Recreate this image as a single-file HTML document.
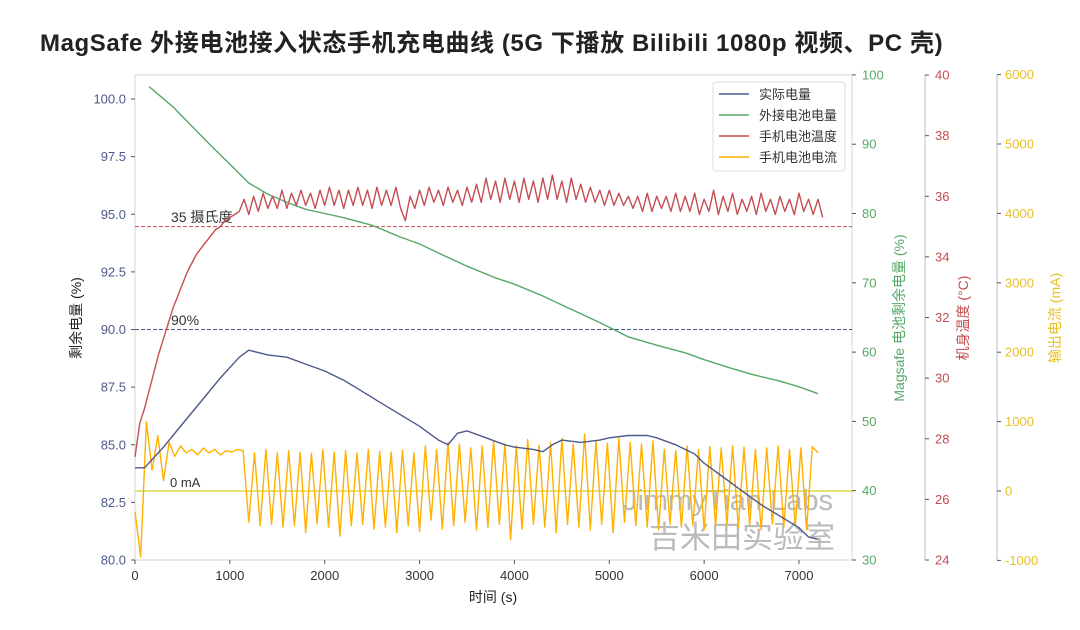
<!DOCTYPE html>
<html><head><meta charset="utf-8">
<style>
body{margin:0;background:#fff;}
svg{display:block;font-family:"Liberation Sans","Noto Sans CJK SC",sans-serif;}
</style></head>
<body>
<svg id="chart" width="1080" height="630" viewBox="0 0 1080 630" xmlns="http://www.w3.org/2000/svg">
<rect x="0" y="0" width="1080" height="630" fill="#fff"/>
<text x="40" y="51" font-size="24" font-weight="bold" letter-spacing="0.6" fill="#222" font-family="'Liberation Sans','Noto Sans CJK SC',sans-serif">MagSafe 外接电池接入状态手机充电曲线 (5G 下播放 Bilibili 1080p 视频、PC 壳)</text>
<g id="plot"></g>
</svg>
<script>
// ---- data ----
const timeTicks = [0,1000,2000,3000,4000,5000,6000,7000];
const leftTicks = [80.0,82.5,85.0,87.5,90.0,92.5,95.0,97.5,100.0];
const greenTicks = [30,40,50,60,70,80,90,100];
const redTicks = [24,26,28,30,32,34,36,38,40];
const yellowTicks = [-1000,0,1000,2000,3000,4000,5000,6000];

// actual battery (%) vs time
const battT = [0,100,300,500,700,900,1100,1200,1400,1600,1800,2000,2200,2400,2600,2800,3000,3200,3300,3400,3500,3700,3900,4000,4200,4300,4400,4500,4700,4900,5000,5200,5400,5500,5700,5900,6000,6200,6400,6600,6800,7000,7100,7200];
const battV = [84.0,84.0,84.9,85.9,86.9,87.9,88.8,89.1,88.9,88.8,88.5,88.2,87.8,87.3,86.8,86.3,85.8,85.2,85.0,85.5,85.6,85.3,85.0,84.9,84.8,84.7,85.0,85.2,85.1,85.2,85.3,85.4,85.4,85.3,85.0,84.6,84.2,83.6,83.0,82.4,81.9,81.4,81.0,80.9];

// external battery (%) vs time
const extT = [150,400,600,800,1000,1200,1400,1600,1800,2000,2200,2500,2800,3000,3200,3500,3800,4000,4300,4500,4800,5000,5200,5500,5800,6000,6300,6500,6800,7000,7200];
const extV = [98.3,95.4,92.6,89.8,87.1,84.4,82.8,81.6,80.6,80.0,79.4,78.3,76.6,75.6,74.3,72.4,70.7,69.8,68.1,66.8,64.9,63.6,62.2,61.0,59.9,58.9,57.6,56.8,55.8,55.0,54.0];

// phone temperature (°C), 50 s step from t=0
const tempV = [27.4,28.5,29.0,29.6,30.2,30.8,31.3,31.8,32.3,32.7,33.1,33.5,33.8,34.1,34.3,34.5,34.7,34.9,35.0,35.2,35.3,35.4,35.5,
35.9,35.4,36.0,35.5,36.1,35.6,36.0,35.6,36.2,35.6,36.1,35.7,36.2,35.7,36.1,35.6,36.2,35.7,36.3,35.7,36.2,35.6,
36.2,35.7,36.3,35.7,36.2,35.6,36.3,35.7,36.2,35.7,36.3,35.6,35.2,36.0,35.6,36.2,35.7,36.3,35.8,36.2,35.7,36.3,35.8,
36.2,35.7,36.3,35.8,36.4,35.8,36.6,35.9,36.5,35.8,36.6,35.9,36.5,35.8,36.6,35.9,36.5,35.8,36.6,35.9,36.7,35.9,36.5,
35.8,36.6,35.9,36.4,35.8,36.3,35.8,36.2,35.7,36.2,35.7,36.1,35.7,36.0,35.6,36.0,35.5,36.1,35.5,36.0,35.6,36.0,35.5,
36.1,35.5,36.0,35.5,36.1,35.4,35.9,35.5,36.2,35.4,36.0,35.5,36.1,35.4,35.9,35.5,36.0,35.4,36.1,35.5,
35.9,35.4,36.0,35.5,35.9,35.4,36.1,35.5,35.9,35.4,35.9,35.3];
// phone current (mA), 60 s step from t=0
const currV = [-300,-950,1000,300,800,150,700,500,650,550,600,520,620,550,600,520,580,560,600,580,
-450,550,-500,600,-480,550,-520,580,-500,560,-600,540,-470,600,-520,560,-650,580,-500,550,
-480,600,-550,570,-520,560,-600,590,-500,550,-580,650,-420,600,-550,700,-500,680,-450,620,
-560,650,-520,720,-480,680,-700,650,-550,740,-480,660,-520,700,-600,760,-480,680,-520,820,
-560,720,-480,690,-600,760,-450,700,-500,680,-520,720,-560,600,-480,580,-520,650,-500,600,
-560,640,-500,620,-480,650,-530,630,-500,600,-560,620,-480,650,-520,600,-500,620,-560,640,550];

// ---- scales ----
const L=135,R=852,T=75,B=560;
const xS=t=>L+t*(799-135)/7000;
const yL=v=>560-(v-80)*23.05;
const yG=v=>560-(v-30)*6.93;
const yR=v=>560-(v-24)*30.31;
const yY=v=>491-v*0.0694;
const NS='http://www.w3.org/2000/svg';
const g=document.getElementById('plot');
function mk(tag,attrs,parent){const e=document.createElementNS(NS,tag);for(const k in attrs)e.setAttribute(k,attrs[k]);(parent||g).appendChild(e);return e;}
function txt(s,attrs){const e=mk('text',attrs);e.textContent=s;return e;}

// frame
let f=mk('rect',{x:L,y:T,width:R-L,height:B-T,fill:'none',stroke:'#ddd','stroke-width':1.2});



// watermark
let w1=txt('JimmyTian Labs',{x:833,y:510,'font-size':29,fill:'#bbb','text-anchor':'end'});


let w2=txt('吉米田实验室',{x:835,y:548,'font-size':31,fill:'#bbb','text-anchor':'end'});



// reference lines
let r1=mk('line',{x1:L,x2:R,y1:yR(35),y2:yR(35),stroke:'#c44e52','stroke-width':1,'stroke-dasharray':'4,2'});


let r2=mk('line',{x1:L,x2:R,y1:yL(90),y2:yL(90),stroke:'#4c5a8a','stroke-width':1,'stroke-dasharray':'4,2'});


let r3=mk('line',{x1:L,x2:R,y1:yY(0),y2:yY(0),stroke:'#d8d020','stroke-width':1.2});


let t1=txt('35 摄氏度',{x:171,y:222,'font-size':14,fill:'#333'});


let t2=txt('90%',{x:171,y:325,'font-size':14,fill:'#333'});


let t3=txt('0 mA',{x:170,y:487,'font-size':13,fill:'#333'});



function line(ts,vs,ys,color,name,wd){
  const d=vs.map((v,i)=>(i?'L':'M')+xS(ts[i]).toFixed(1)+','+ys(v).toFixed(1)).join('');
  const p=mk('path',{d:d,fill:'none',stroke:color,'stroke-width':wd||1.4,'stroke-linejoin':'round'});
  
  
}
line(extT,extV,yG,'#55a868','series-external-battery');
line(tempV.map((v,i)=>i*50),tempV,yR,'#c44e52','series-phone-temp');
line(currV.map((v,i)=>i*60),currV,yY,'#ffb000','series-phone-current');
line(battT,battV,yL,'#4c5a8a','series-actual-battery');

// x axis
timeTicks.forEach(t=>{
  let tk=mk('line',{x1:xS(t),x2:xS(t),y1:B,y2:B+4,stroke:'#555'});
  
  
  let l=txt(String(t),{x:xS(t),y:B+20,'font-size':13,fill:'#333','text-anchor':'middle'});
  
  
});
let xt=txt('时间 (s)',{x:493,y:602,'font-size':14,fill:'#222','text-anchor':'middle'});



// left axis
leftTicks.forEach(v=>{
  let tk=mk('line',{x1:L-4,x2:L,y1:yL(v),y2:yL(v),stroke:'#555'});
  
  
  let l=txt(v.toFixed(1),{x:L-9,y:yL(v)+4.5,'font-size':13,fill:'#4c5a8a','text-anchor':'end'});
  
  
});
let lt=txt('剩余电量 (%)',{x:0,y:0,'font-size':14,fill:'#222','text-anchor':'middle',transform:'translate(81,318) rotate(-90)'});



// green axis
greenTicks.forEach(v=>{
  let tk=mk('line',{x1:R,x2:R+4,y1:yG(v),y2:yG(v),stroke:'#555'});
  
  
  let l=txt(String(v),{x:R+10,y:yG(v)+4.5,'font-size':13,fill:'#55a868'});
  
  
});
let gt=txt('Magsafe 电池剩余电量 (%)',{x:0,y:0,'font-size':14,fill:'#55a868','text-anchor':'middle',transform:'translate(904,318) rotate(-90)'});



// red axis
let rs=mk('line',{x1:925,x2:925,y1:T,y2:B,stroke:'#ccc','stroke-width':1.2});


redTicks.forEach(v=>{
  let tk=mk('line',{x1:925,x2:929,y1:yR(v),y2:yR(v),stroke:'#555'});
  
  
  let l=txt(String(v),{x:935,y:yR(v)+4.5,'font-size':13,fill:'#c44e52'});
  
  
});
let rt=txt('机身温度 (°C)',{x:0,y:0,'font-size':14,fill:'#c44e52','text-anchor':'middle',transform:'translate(968,318) rotate(-90)'});



// yellow axis
let ys=mk('line',{x1:997,x2:997,y1:T,y2:B,stroke:'#ccc','stroke-width':1.2});


yellowTicks.forEach(v=>{
  let tk=mk('line',{x1:997,x2:1001,y1:yY(v),y2:yY(v),stroke:'#555'});
  
  
  let l=txt(String(v),{x:1005,y:yY(v)+4.5,'font-size':13,fill:'#e8c020'});
  
  
});
let yt=txt('输出电流 (mA)',{x:0,y:0,'font-size':14,fill:'#e8c020','text-anchor':'middle',transform:'translate(1060,318) rotate(-90)'});



// legend
let lg=mk('rect',{x:713,y:82,width:132,height:89,rx:3,fill:'#fff','fill-opacity':0.9,stroke:'#ddd'});


const legNames=['实际电量','外接电池电量','手机电池温度','手机电池电流'];
const legColors=['#4c5a8a','#55a868','#c44e52','#ffb000'];
legNames.forEach((n,i)=>{
  const y=94+i*21;
  let ln=mk('line',{x1:719,x2:749,y1:y,y2:y,stroke:legColors[i],'stroke-width':1.6});
  
  
  let lt2=txt(n,{x:759,y:y+5,'font-size':13,fill:'#333'});
  
  
});
</script>
</body></html>
